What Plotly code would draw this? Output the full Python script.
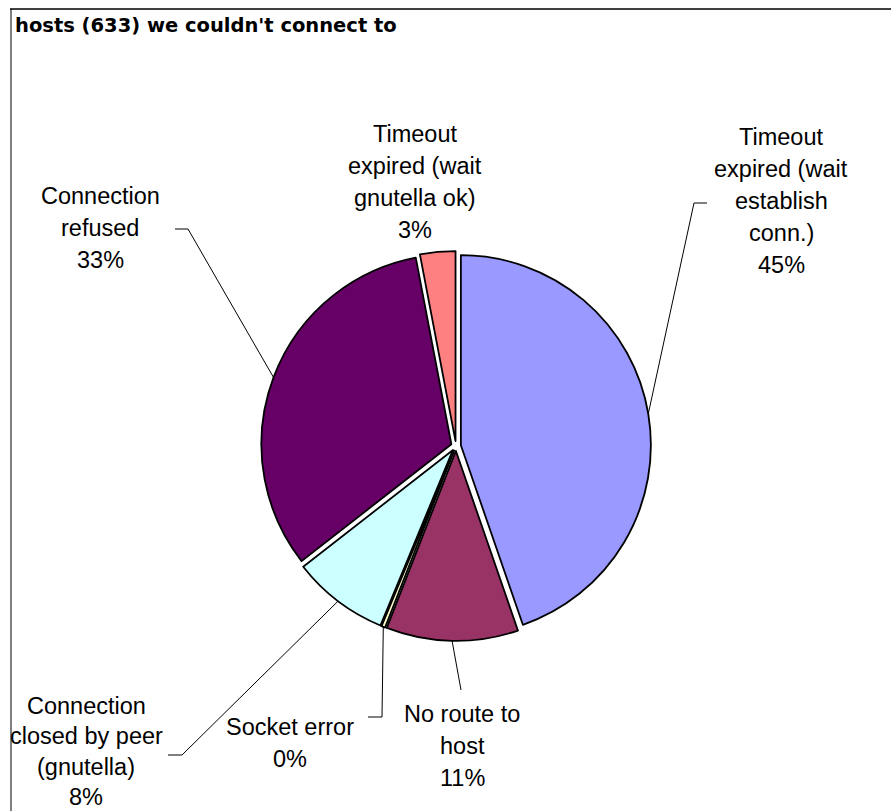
import math
import plotly.graph_objects as go

# --- data -------------------------------------------------------------
categories = [
    "Timeout expired (wait establish conn.)",
    "No route to host",
    "Socket error",
    "Connection closed by peer (gnutella)",
    "Connection refused",
    "Timeout expired (wait gnutella ok)",
]
host_counts = [283, 71, 2, 52, 206, 19]
slice_colors = ["#9999FF", "#993366", "#FFFFCC", "#CCFFFF", "#660066", "#FF8080"]
label_lines = [
    ["Timeout", "expired (wait", "establish", "conn.)"],
    ["No route to", "host"],
    ["Socket error"],
    ["Connection", "closed by peer", "(gnutella)"],
    ["Connection", "refused"],
    ["Timeout", "expired (wait", "gnutella ok)"],
]

# --- layout constants (pixels) -----------------------------------------
W, H = 891, 811
CX, CY, R = 456, 446, 190          # pie centre and radius
PULL = 0.026                       # explode amount (fraction of radius)
LABEL_FONT = "Liberation Sans, Arial, sans-serif"
LABEL_SIZE = 23.5
# label block: centre x, baseline of first line, line step
label_pos = [(781, 145, 32), (462, 722, 32), (290, 735, 32),
             (86, 714, 30.5), (100, 204, 32), (415, 142, 32)]
# leader line elbow + end (None = no leader)
leader_tail = [
    [(694, 203), (707, 203)],
    [(461, 690)],
    [(382, 717), (368, 717)],
    [(182, 755), (168, 755)],
    [(188, 229), (175, 229)],
    None,
]

total = sum(host_counts)
pcts = [int(math.floor(100 * v / total + 0.5)) for v in host_counts]

# pie box that yields radius R after plotly shrinks it for the pull
half = R * (1 + PULL)
dom_x = [(CX - half) / W, (CX + half) / W]
dom_y = [1 - (CY + half) / H, 1 - (CY - half) / H]

fig = go.Figure()
fig.add_trace(go.Pie(
    labels=categories,
    values=host_counts,
    sort=False,
    direction="clockwise",
    rotation=0,
    pull=[PULL] * len(host_counts),
    marker=dict(colors=slice_colors, line=dict(color="black", width=1.8)),
    textinfo="none",
    hoverinfo="label+value+percent",
    domain=dict(x=dom_x, y=dom_y),
    showlegend=False,
))

# invisible pixel-space axes used for labels and leader lines
fig.add_trace(go.Scatter(x=[0, W], y=[0, H], mode="markers",
                         marker=dict(opacity=0), hoverinfo="skip", showlegend=False))

shapes = []
annotations = []

# leader lines start at each slice's mid-angle on its (pulled) edge
cum = 0.0
for i, v in enumerate(host_counts):
    mid = (cum + v / 2) / total * 2 * math.pi
    cum += v
    tail = leader_tail[i]
    if tail is None:
        continue
    rr = R * (1 + PULL)
    sx, sy = CX + rr * math.sin(mid), CY - rr * math.cos(mid)
    pts = [(sx, sy)] + tail
    path = "M " + " L ".join(f"{x:.1f},{y:.1f}" for x, y in pts)
    shapes.append(dict(type="path", xref="x", yref="y", path=path,
                       line=dict(color="black", width=1)))

# slice labels, one annotation per text line
for i, lines in enumerate(label_lines):
    cx, base, step = label_pos[i]
    all_lines = lines + [f"{pcts[i]}%"]
    for k, txt in enumerate(all_lines):
        y_mid = base + k * step - 0.35 * LABEL_SIZE
        annotations.append(dict(
            x=cx, y=y_mid, xref="x", yref="y", text=txt, showarrow=False,
            xanchor="center", yanchor="middle",
            font=dict(family=LABEL_FONT, size=LABEL_SIZE, color="black"),
        ))

# title
annotations.append(dict(
    x=13, y=25, xref="x", yref="y", xanchor="left", yanchor="middle",
    text=f"<b>hosts ({total}) we couldn't connect to</b>", showarrow=False,
    font=dict(family="DejaVu Sans, Verdana, sans-serif", size=19.5, color="black"),
))

# chart frame (top and left edges)
shapes.append(dict(type="line", xref="x", yref="y", x0=10, y0=9, x1=W + 5, y1=9,
                   line=dict(color="#404040", width=2)))
shapes.append(dict(type="line", xref="x", yref="y", x0=11, y0=9, x1=11, y1=H + 5,
                   line=dict(color="black", width=1)))

fig.update_layout(
    width=W, height=H,
    margin=dict(l=0, r=0, t=0, b=0),
    paper_bgcolor="white", plot_bgcolor="rgba(0,0,0,0)",
    xaxis=dict(range=[0, W], visible=False, fixedrange=True, domain=[0, 1]),
    yaxis=dict(range=[H, 0], visible=False, fixedrange=True, domain=[0, 1]),
    shapes=shapes,
    annotations=annotations,
)

fig.write_html("out.html")
